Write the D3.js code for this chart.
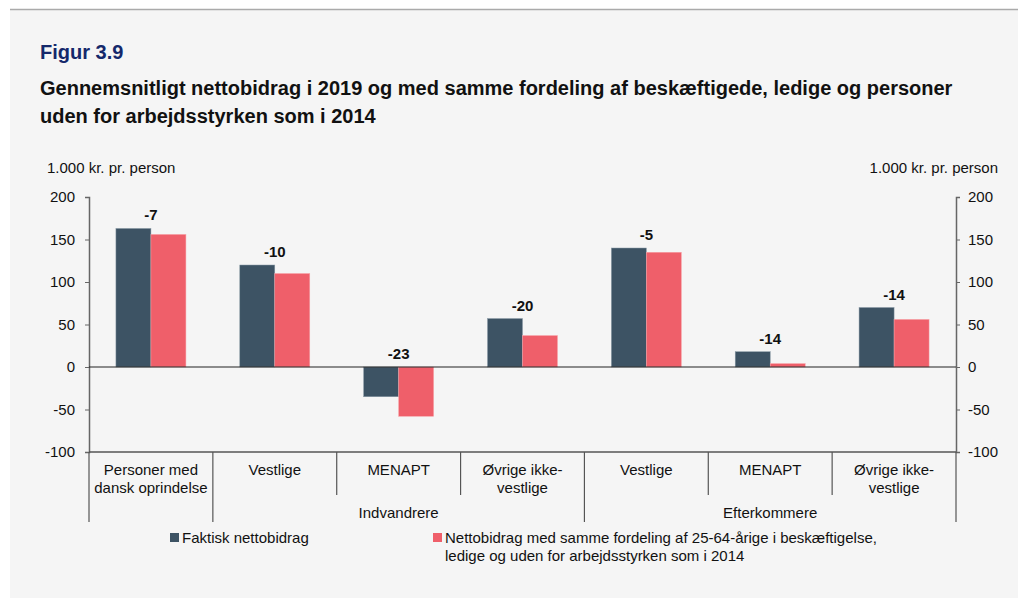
<!DOCTYPE html>
<html>
<head>
<meta charset="utf-8">
<script src="https://cdn.jsdelivr.net/npm/d3@7"></script>
<style>
  body { margin: 0; background: #fff; }
  svg text { font-family: "Liberation Sans", Arial, sans-serif; }
</style>
</head>
<body>
<div id="chart"></div>
<script>
// data
let categories = ["Personer med|dansk oprindelse", "Vestlige", "MENAPT", "Øvrige ikke-|vestlige", "Vestlige", "MENAPT", "Øvrige ikke-|vestlige"];
let groups = [{name: "", from: 0, to: 0}, {name: "Indvandrere", from: 1, to: 3}, {name: "Efterkommere", from: 4, to: 6}];
let faktisk = [163, 120, -35, 57, 140, 18, 70];
let samme = [156, 110, -58, 37, 135, 4, 56];
let diffLabels = ["-7", "-10", "-23", "-20", "-5", "-14", "-14"];
let yTicks = [-100, -50, 0, 50, 100, 150, 200];
let seriesNames = ["Faktisk nettobidrag", "Nettobidrag med samme fordeling af 25-64-årige i beskæftigelse,|ledige og uden for arbejdsstyrken som i 2014"];
let colors = ["#3d5364", "#ef5f6a"];

let width = 1018, height = 600;
let plotL = 89, plotR = 956, plotT = 197, plotB = 452;
let fs = "15px";

let svg = d3.select("#chart").append("svg")
    .attr("width", width)
    .attr("height", height);

svg.append("rect").attr("x", 10).attr("y", 9).attr("width", width - 10).attr("height", 589).attr("fill", "#f5f5f5");
svg.append("line").attr("x1", 10).attr("x2", width).attr("y1", 9.5).attr("y2", 9.5).attr("stroke", "#aaa").attr("stroke-width", 1.5);

// titles
svg.append("text").attr("x", 40).attr("y", 59).text("Figur 3.9")
    .style("font-weight", "bold").style("font-size", "20px").attr("fill", "#14286b");
svg.append("text").attr("x", 40).attr("y", 95).text("Gennemsnitligt nettobidrag i 2019 og med samme fordeling af beskæftigede, ledige og personer")
    .style("font-weight", "bold").style("font-size", "20px").attr("fill", "#111");
svg.append("text").attr("x", 40).attr("y", 123).text("uden for arbejdsstyrken som i 2014")
    .style("font-weight", "bold").style("font-size", "20px").attr("fill", "#111");

let x = d3.scaleBand().domain(d3.range(categories.length)).range([plotL, plotR]).paddingInner(0).paddingOuter(0);
let y = d3.scaleLinear().domain([-100, 200]).range([plotB, plotT]);
let bw = 35;

// axes
let fmt = d => String(d);
let yl = svg.append("g").attr("transform", `translate(${plotL},0)`)
    .call(d3.axisLeft(y).tickValues(yTicks).tickFormat(fmt).tickSize(4).tickPadding(10));
let yr = svg.append("g").attr("transform", `translate(${plotR},0)`)
    .call(d3.axisRight(y).tickValues(yTicks).tickFormat(fmt).tickSize(4).tickPadding(8));
[yl, yr].forEach(g => {
  g.select(".domain").attr("stroke", "#666").attr("stroke-width", 1.5);
  g.selectAll(".tick line").attr("stroke", "#666");
  g.selectAll("text").style("font-size", fs).attr("fill", "#111");
});

svg.append("text").attr("x", 47).attr("y", 173).text("1.000 kr. pr. person").style("font-size", fs).attr("fill", "#111");
svg.append("text").attr("x", 998).attr("y", 173).attr("text-anchor", "end").text("1.000 kr. pr. person").style("font-size", fs).attr("fill", "#111");

// bars
let cx = i => x(i) + x.bandwidth() / 2;
svg.append("g").selectAll("rect").data(faktisk).enter().append("rect")
    .attr("x", (d, i) => cx(i) - bw)
    .attr("width", bw)
    .attr("y", d => y(Math.max(0, d)))
    .attr("height", d => Math.abs(y(d) - y(0)))
    .attr("fill", colors[0]).attr("stroke", "#8a9aa6").attr("stroke-width", 0.5);
svg.append("g").selectAll("rect").data(samme).enter().append("rect")
    .attr("x", (d, i) => cx(i))
    .attr("width", bw)
    .attr("y", d => y(Math.max(0, d)))
    .attr("height", d => Math.abs(y(d) - y(0)))
    .attr("fill", colors[1]).attr("stroke", "#f7a5aa").attr("stroke-width", 0.5);

// zero line
svg.append("line").attr("x1", plotL).attr("x2", plotR).attr("y1", y(0)).attr("y2", y(0)).attr("stroke", "#222").attr("stroke-width", 1.2);
svg.append("line").attr("x1", plotL).attr("x2", plotR).attr("y1", y(-100)).attr("y2", y(-100)).attr("stroke", "#555").attr("stroke-width", 1.5);

// difference labels
svg.append("g").selectAll("text").data(diffLabels).enter().append("text")
    .attr("x", (d, i) => cx(i))
    .attr("y", (d, i) => y(Math.max(0, faktisk[i], samme[i])) - 8)
    .attr("text-anchor", "middle")
    .style("font-weight", "bold").style("font-size", fs).attr("fill", "#111")
    .text(d => d);

// category labels
categories.forEach((c, i) => {
  let t = svg.append("text").attr("x", cx(i)).attr("y", plotB + 23).attr("text-anchor", "middle")
      .style("font-size", fs).attr("fill", "#111");
  c.split("|").forEach((s, j) => t.append("tspan").attr("x", cx(i)).attr("dy", j ? 18 : 0).text(s));
});

// dividers
let dividers = d3.range(categories.length + 1);
dividers.forEach(i => {
  let xp = i < categories.length ? x(i) : plotR;
  let full = i === 0 || i === 1 || i === 4 || i === categories.length;
  svg.append("line").attr("x1", xp).attr("x2", xp).attr("y1", plotB).attr("y2", full ? 522 : 495)
      .attr("stroke", "#555").attr("stroke-width", 1.2);
});

// group labels
groups.filter(g => g.name).forEach(g => {
  let gx = (x(g.from) + x(g.to) + x.bandwidth()) / 2;
  svg.append("text").attr("x", gx).attr("y", plotB + 66).attr("text-anchor", "middle")
      .style("font-size", fs).attr("fill", "#111").text(g.name);
});

// legend
let legX = [170, 433];
seriesNames.forEach((n, i) => {
  svg.append("rect").attr("x", legX[i]).attr("y", 533).attr("width", 9).attr("height", 9).attr("fill", colors[i]);
  let t = svg.append("text").attr("x", legX[i] + 12).attr("y", 543).style("font-size", fs).attr("fill", "#111");
  n.split("|").forEach((s, j) => t.append("tspan").attr("x", legX[i] + 12).attr("dy", j ? 18 : 0).text(s));
});
</script>
</body>
</html>
